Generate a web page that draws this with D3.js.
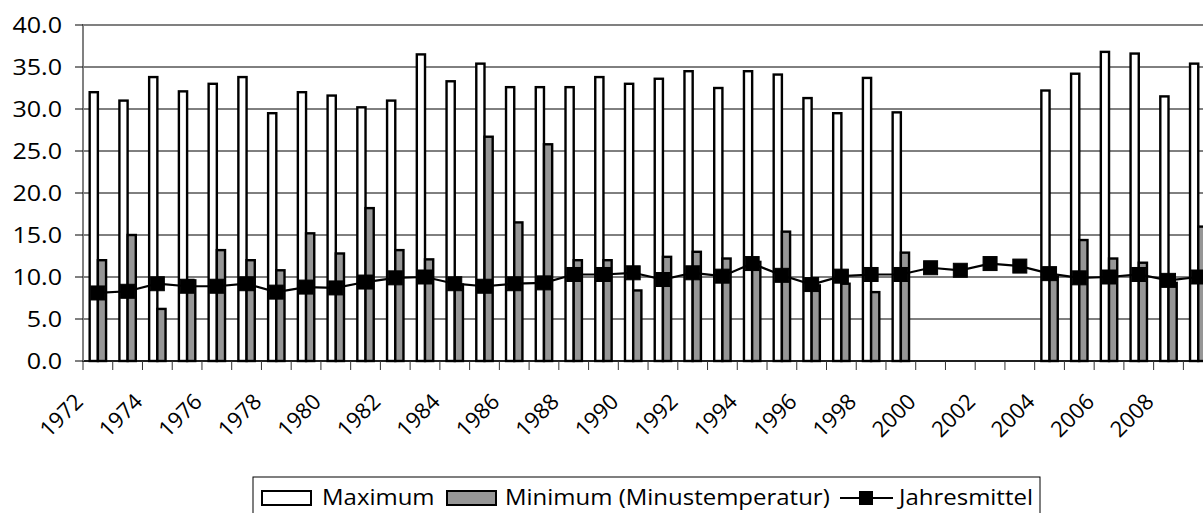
<!DOCTYPE html>
<html>
<head>
<meta charset="utf-8">
<script src="https://cdn.jsdelivr.net/npm/d3@7"></script>
<style>
  body { margin: 0; background: #fff; }
  text { font-family: "Open Sans", sans-serif; fill: #000; }
</style>
</head>
<body>
<div id="chart"></div>
<script>
// years on the category axis
const years = [
  "1972", "1973", "1974", "1975", "1976", "1977", "1978", "1979", "1980", "1981",
  "1982", "1983", "1984", "1985", "1986", "1987", "1988", "1989", "1990", "1991",
  "1992", "1993", "1994", "1995", "1996", "1997", "1998", "1999", "2000", "2001",
  "2002", "2003", "2004", "2005", "2006", "2007", "2008", "2009"
];
const tickLabels = [
  "1972", "1974", "1976", "1978", "1980", "1982", "1984", "1986", "1988", "1990",
  "1992", "1994", "1996", "1998", "2000", "2002", "2004", "2006", "2008"
];
const maximum = [
  32.0, 31.0, 33.8, 32.1, 33.0, 33.8, 29.5, 32.0, 31.6, 30.2,
  31.0, 36.5, 33.3, 35.4, 32.6, 32.6, 32.6, 33.8, 33.0, 33.6,
  34.5, 32.5, 34.5, 34.1, 31.3, 29.5, 33.7, 29.6, null, null,
  null, null, 32.2, 34.2, 36.8, 36.6, 31.5, 35.4
];
const minimum = [
  12.0, 15.0, 6.2, 9.6, 13.2, 12.0, 10.8, 15.2, 12.8, 18.2,
  13.2, 12.1, 9.1, 26.7, 16.5, 25.8, 12.0, 12.0, 8.4, 12.4,
  13.0, 12.2, 11.8, 15.4, 9.0, 9.2, 8.2, 12.9, null, null,
  null, null, 10.0, 14.4, 12.2, 11.7, 9.3, 16.0
];
const jahresmittel = [
  8.1, 8.3, 9.2, 8.9, 8.9, 9.2, 8.2, 8.8, 8.7, 9.4,
  9.9, 10.0, 9.2, 8.9, 9.2, 9.3, 10.3, 10.3, 10.5, 9.7,
  10.5, 10.1, 11.6, 10.2, 9.1, 10.1, 10.3, 10.3, 11.1, 10.8,
  11.6, 11.3, 10.4, 9.9, 10.0, 10.3, 9.6, 10.0
];
const yTicks = [0, 5, 10, 15, 20, 25, 30, 35, 40];
const seriesNames = ["Maximum", "Minimum (Minustemperatur)", "Jahresmittel"];

const width = 1203, height = 513;
const plotLeft = 83, plotTop = 25, plotBottom = 361;
const step = 29.74;
const barW = 8.2;
const sx = 1.14; // value labels in the source run a bit wide
const legendSx = 1.09;

const svg = d3.select("#chart").append("svg")
  .attr("width", width)
  .attr("height", height);

const x = d3.scaleBand()
  .domain(years)
  .range([plotLeft, plotLeft + step * years.length]);
const xSub = d3.scaleBand()
  .domain(["max", "min"])
  .range([x.bandwidth() / 2 - barW, x.bandwidth() / 2 + barW]);
const y = d3.scaleLinear().domain([0, 40]).range([plotBottom, plotTop]);
const plotRight = x.range()[1];

// gridlines
svg.append("g").selectAll("line")
  .data(yTicks.filter(d => d > 0 && d < 40))
  .join("line")
  .attr("x1", plotLeft).attr("x2", plotRight)
  .attr("y1", d => y(d)).attr("y2", d => y(d))
  .attr("stroke", "#000").attr("stroke-width", 1);

// plot area border
svg.append("rect")
  .attr("x", plotLeft).attr("y", plotTop)
  .attr("width", plotRight - plotLeft).attr("height", plotBottom - plotTop)
  .attr("fill", "none")
  .attr("stroke", "#808080").attr("stroke-width", 2);

const rows = years.map((yr, i) => ({
  year: yr, max: maximum[i], min: minimum[i], mean: jahresmittel[i]
}));

// bars
const groups = svg.append("g").selectAll("g")
  .data(rows)
  .join("g")
  .attr("transform", d => `translate(${x(d.year)},0)`);

groups.filter(d => d.max != null).append("rect")
  .attr("x", xSub("max"))
  .attr("width", xSub.bandwidth())
  .attr("y", d => y(d.max))
  .attr("height", d => y(0) - y(d.max))
  .attr("fill", "#fff")
  .attr("stroke", "#000").attr("stroke-width", 2.4);

groups.filter(d => d.min != null).append("rect")
  .attr("x", xSub("min"))
  .attr("width", xSub.bandwidth())
  .attr("y", d => y(d.min))
  .attr("height", d => y(0) - y(d.min))
  .attr("fill", "#969696")
  .attr("stroke", "#000").attr("stroke-width", 2.4);

// axes
svg.append("line")
  .attr("x1", plotLeft).attr("x2", plotRight)
  .attr("y1", plotBottom).attr("y2", plotBottom)
  .attr("stroke", "#000").attr("stroke-width", 1.5);
svg.append("line")
  .attr("x1", plotLeft).attr("x2", plotLeft)
  .attr("y1", plotTop).attr("y2", plotBottom)
  .attr("stroke", "#808080").attr("stroke-width", 2);

svg.append("g").selectAll("line")
  .data(years.map(d => x(d)).concat([plotRight]))
  .join("line")
  .attr("x1", d => d).attr("x2", d => d)
  .attr("y1", plotBottom).attr("y2", plotBottom + 9)
  .attr("stroke", "#333").attr("stroke-width", 1);

svg.append("g").selectAll("line")
  .data(yTicks)
  .join("line")
  .attr("x1", plotLeft - 8).attr("x2", plotLeft)
  .attr("y1", d => y(d)).attr("y2", d => y(d))
  .attr("stroke", "#000").attr("stroke-width", 1);

svg.append("g").selectAll("text")
  .data(yTicks)
  .join("text")
  .attr("transform", d => `translate(62,${y(d)}) scale(${sx},1)`)
  .attr("dy", "0.36em")
  .attr("text-anchor", "end")
  .style("font-size", "22px")
  .text(d3.format(".1f"));

svg.append("g").selectAll("text")
  .data(tickLabels)
  .join("text")
  .attr("transform", d => `translate(${x(d) + x.bandwidth() / 2 - 13.4},${plotBottom + 42}) rotate(-45)`)
  .attr("text-anchor", "end")
  .style("font-size", "22px")
  .text(d => d);

// Jahresmittel line
const line = d3.line()
  .x(d => x(d.year) + x.bandwidth() / 2)
  .y(d => y(d.mean));

svg.append("path")
  .datum(rows)
  .attr("d", line)
  .attr("fill", "none")
  .attr("stroke", "#000").attr("stroke-width", 2.2);

svg.append("g").selectAll("rect")
  .data(rows)
  .join("rect")
  .attr("x", d => x(d.year) + x.bandwidth() / 2 - 7)
  .attr("y", d => y(d.mean) - 7)
  .attr("width", 14).attr("height", 14)
  .attr("fill", "#000").attr("stroke", "#000").attr("stroke-width", 1);

// legend
const legend = svg.append("g").attr("class", "legend");
legend.append("rect")
  .attr("x", 253).attr("y", 477)
  .attr("width", 787).attr("height", 50)
  .attr("fill", "#fff")
  .attr("stroke", "#000").attr("stroke-width", 1);

legend.append("rect")
  .attr("x", 262).attr("y", 491).attr("width", 49).attr("height", 14)
  .attr("fill", "#fff").attr("stroke", "#000").attr("stroke-width", 2);
legend.append("rect")
  .attr("x", 447).attr("y", 491).attr("width", 49).attr("height", 14)
  .attr("fill", "#969696").attr("stroke", "#000").attr("stroke-width", 2);
legend.append("line")
  .attr("x1", 840).attr("x2", 893).attr("y1", 498).attr("y2", 498)
  .attr("stroke", "#000").attr("stroke-width", 2.2);
legend.append("rect")
  .attr("x", 859).attr("y", 491).attr("width", 14).attr("height", 14)
  .attr("fill", "#000");

const legendX = [322, 505, 899];
legend.selectAll("text")
  .data(seriesNames)
  .join("text")
  .attr("transform", (d, i) => `translate(${legendX[i]},505) scale(${legendSx},1)`)
  .style("font-size", "22px")
  .text(d => d);
</script>
</body>
</html>
